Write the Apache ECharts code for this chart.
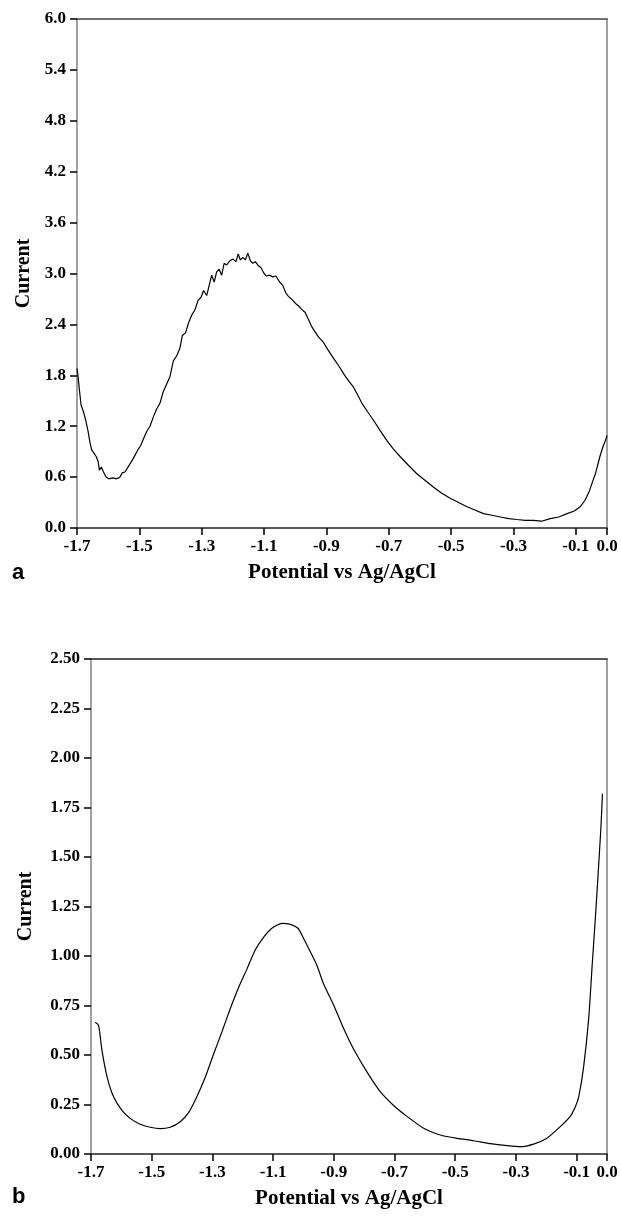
<!DOCTYPE html>
<html>
<head>
<meta charset="utf-8">
<script src="https://cdn.jsdelivr.net/npm/echarts@6/dist/echarts.min.js"></script>
<style>
html,body{margin:0;padding:0;background:#fff;}
#chart{width:621px;height:1216px;}
</style>
</head>
<body>
<div id="chart"></div>
<script>
// ---- Panel a ----
const potentialA = [-1.700,-1.697,-1.692,-1.687,-1.680,-1.672,-1.665,-1.659,-1.653,-1.645,-1.638,-1.632,-1.628,-1.622,-1.615,-1.607,-1.598,-1.585,-1.573,-1.562,-1.555,-1.546,-1.536,-1.526,-1.515,-1.505,-1.496,-1.487,-1.476,-1.466,-1.455,-1.445,-1.434,-1.424,-1.412,-1.402,-1.391,-1.380,-1.370,-1.362,-1.352,-1.342,-1.332,-1.322,-1.312,-1.302,-1.294,-1.284,-1.276,-1.268,-1.260,-1.252,-1.244,-1.236,-1.228,-1.220,-1.210,-1.200,-1.190,-1.183,-1.176,-1.168,-1.160,-1.152,-1.144,-1.136,-1.128,-1.118,-1.110,-1.100,-1.092,-1.082,-1.072,-1.062,-1.050,-1.040,-1.030,-1.022,-1.012,-1.000,-0.990,-0.980,-0.968,-0.958,-0.948,-0.938,-0.925,-0.910,-0.895,-0.877,-0.860,-0.845,-0.830,-0.813,-0.800,-0.786,-0.768,-0.749,-0.728,-0.706,-0.685,-0.663,-0.637,-0.610,-0.583,-0.556,-0.530,-0.503,-0.476,-0.449,-0.422,-0.396,-0.369,-0.342,-0.315,-0.289,-0.262,-0.236,-0.210,-0.182,-0.155,-0.128,-0.105,-0.086,-0.070,-0.056,-0.046,-0.037,-0.023,-0.012,-0.005,0.000];
const currentA = [1.88,1.80,1.62,1.45,1.38,1.27,1.15,1.02,0.92,0.88,0.84,0.78,0.68,0.72,0.66,0.60,0.58,0.59,0.58,0.60,0.65,0.66,0.72,0.78,0.85,0.92,0.97,1.05,1.14,1.20,1.31,1.40,1.47,1.60,1.70,1.78,1.97,2.03,2.12,2.27,2.30,2.42,2.51,2.57,2.68,2.72,2.80,2.74,2.86,2.98,2.90,3.02,3.05,2.98,3.12,3.10,3.15,3.17,3.14,3.23,3.16,3.19,3.16,3.24,3.15,3.12,3.14,3.09,3.07,3.00,2.97,2.98,2.96,2.97,2.90,2.86,2.77,2.73,2.70,2.65,2.62,2.58,2.54,2.46,2.38,2.32,2.25,2.19,2.10,2.00,1.91,1.82,1.74,1.66,1.57,1.47,1.37,1.27,1.15,1.03,0.93,0.84,0.74,0.64,0.56,0.48,0.41,0.35,0.30,0.25,0.21,0.17,0.15,0.13,0.11,0.10,0.09,0.09,0.08,0.11,0.13,0.17,0.20,0.25,0.33,0.44,0.55,0.64,0.84,0.97,1.03,1.09];

// ---- Panel b ----
const potentialB = [-1.686,-1.675,-1.664,-1.647,-1.626,-1.598,-1.571,-1.538,-1.505,-1.472,-1.439,-1.406,-1.378,-1.351,-1.323,-1.296,-1.268,-1.241,-1.214,-1.186,-1.159,-1.131,-1.104,-1.071,-1.043,-1.018,-1.000,-0.977,-0.955,-0.934,-0.900,-0.868,-0.835,-0.791,-0.747,-0.703,-0.659,-0.604,-0.549,-0.494,-0.439,-0.384,-0.329,-0.285,-0.242,-0.198,-0.154,-0.121,-0.104,-0.093,-0.077,-0.060,-0.049,-0.038,-0.029,-0.020,-0.015];
const currentB = [0.665,0.650,0.525,0.390,0.290,0.220,0.180,0.150,0.135,0.128,0.135,0.163,0.210,0.290,0.390,0.505,0.620,0.735,0.840,0.935,1.030,1.095,1.140,1.165,1.160,1.140,1.090,1.020,0.950,0.860,0.750,0.635,0.530,0.415,0.315,0.245,0.190,0.130,0.096,0.079,0.067,0.052,0.042,0.037,0.050,0.080,0.138,0.190,0.240,0.290,0.440,0.690,0.950,1.200,1.420,1.650,1.820];

// ---- Axis ticks ----
const xTicks = [-1.7,-1.5,-1.3,-1.1,-0.9,-0.7,-0.5,-0.3,-0.1,0.0];
const yTicksA = [0.0,0.6,1.2,1.8,2.4,3.0,3.6,4.2,4.8,5.4,6.0];
const yTicksB = [0.00,0.25,0.50,0.75,1.00,1.25,1.50,1.75,2.00,2.25,2.50];

const xName = 'Potential vs Ag/AgCl';
const yName = 'Current';

const SERIF = '"Liberation Serif","Times New Roman",serif';
const SANS = '"Liberation Sans",Arial,sans-serif';

function pairs(xs, ys){ return xs.map((x,i)=>[x, ys[i]]); }

const chart = echarts.init(document.getElementById('chart'), null, {renderer:'canvas'});

function bottomX(gi, fs, nameFs, nameGap){
  return {
    type:'value', gridIndex:gi, position:'bottom', min:-1.7, max:0,
    axisLine:{show:true, onZero:false, lineStyle:{color:'#222', width:1.5}},
    axisTick:{show:true, inside:false, length:7, customValues:xTicks, lineStyle:{color:'#000', width:1.5}},
    axisLabel:{show:true, customValues:xTicks, margin:10, color:'#000', fontFamily:SERIF, fontWeight:'bold', fontSize:fs,
      formatter:v=>v.toFixed(1)},
    splitLine:{show:false},
    name:xName, nameLocation:'middle', nameGap:nameGap,
    nameTextStyle:{color:'#000', fontFamily:SERIF, fontWeight:'bold', fontSize:nameFs}
  };
}
function topX(gi, color){
  return {
    type:'value', gridIndex:gi, position:'top', min:-1.7, max:0,
    axisLine:{show:true, onZero:false, lineStyle:{color:color, width:1.5}},
    axisTick:{show:false}, axisLabel:{show:false}, splitLine:{show:false}
  };
}
function leftY(gi, ticks, max, dec, fs, nameGap){
  return {
    type:'value', gridIndex:gi, position:'left', min:0, max:max,
    axisLine:{show:true, onZero:false, lineStyle:{color:'#808080', width:1.5}},
    axisTick:{show:true, inside:false, length:7, customValues:ticks, lineStyle:{color:'#000', width:1.5}},
    axisLabel:{show:true, customValues:ticks, margin:11, color:'#000', fontFamily:SERIF, fontWeight:'bold', fontSize:fs,
      formatter:v=>v.toFixed(dec)},
    splitLine:{show:false},
    name:yName, nameLocation:'middle', nameGap:nameGap, nameRotate:90,
    nameTextStyle:{color:'#000', fontFamily:SERIF, fontWeight:'bold', fontSize:20}
  };
}
function rightY(gi, max){
  return {
    type:'value', gridIndex:gi, position:'right', min:0, max:max,
    axisLine:{show:true, onZero:false, lineStyle:{color:'#808080', width:1.5}},
    axisTick:{show:false}, axisLabel:{show:false}, splitLine:{show:false}
  };
}

const option = {
  animation:false,
  backgroundColor:'#fff',
  grid:[
    {left:77, top:19, width:530, height:509, containLabel:false},
    {left:91, top:659, width:516, height:495, containLabel:false}
  ],
  xAxis:[ bottomX(0,17,21,34), topX(0,'#444'), bottomX(1,17,21,34), topX(1,'#222') ],
  yAxis:[ leftY(0,yTicksA,6,1,17,41), rightY(0,6), leftY(1,yTicksB,2.5,2,17,55), rightY(1,2.5) ],
  series:[
    {type:'line', xAxisIndex:0, yAxisIndex:0, data:pairs(potentialA,currentA), showSymbol:false, symbol:'none',
      lineStyle:{color:'#000', width:1.2}, smooth:false, clip:true},
    {type:'line', xAxisIndex:2, yAxisIndex:2, data:pairs(potentialB,currentB), showSymbol:false, symbol:'none',
      lineStyle:{color:'#000', width:1.2}, smooth:0.2, clip:true}
  ],
  graphic:[
    {type:'text', left:12, top:562, style:{text:'a', font:'bold 22px ' + SANS, fill:'#000'}},
    {type:'text', left:12, top:1186, style:{text:'b', font:'bold 22px ' + SANS, fill:'#000'}}
  ]
};
chart.setOption(option);
</script>
</body>
</html>
